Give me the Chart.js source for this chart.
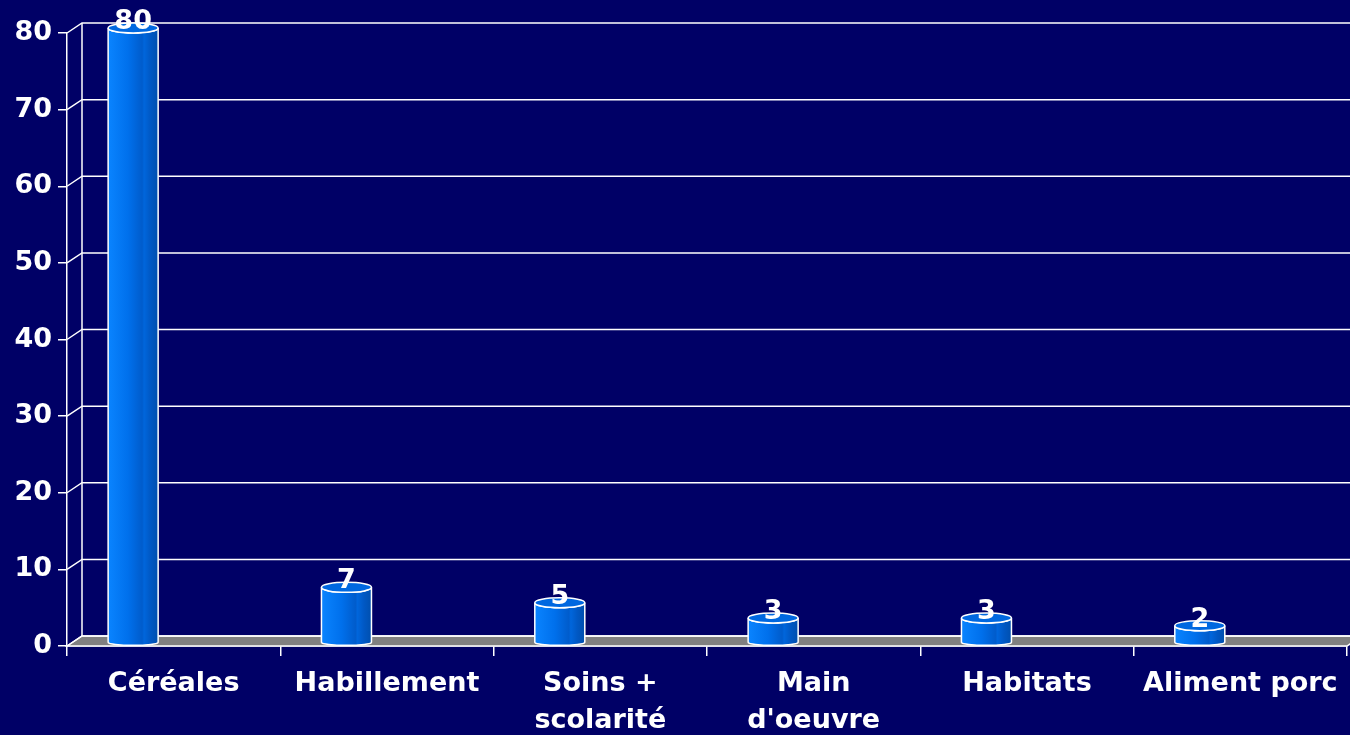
<!DOCTYPE html>
<html>
<head>
<meta charset="utf-8">
<script src="https://cdn.jsdelivr.net/npm/chart.js@4.4.1/dist/chart.umd.min.js"></script>
<style>
    body { margin: 0; background: #000066; }
    #wrap { width: 1350px; height: 735px; position: relative; }
</style>
</head>
<body>
<div id="wrap"><canvas id="chart"></canvas></div>
<script>
// chart data
const categories = ['Céréales', 'Habillement', ['Soins +', 'scolarité'], ['Main', "d'oeuvre"], 'Habitats', 'Aliment porc'];
const values = [80, 7, 5, 3, 3, 2];
const yTicks = [0, 10, 20, 30, 40, 50, 60, 70, 80];

const depthX = 15;   // 3D depth offset of the back wall
const depthY = -10;
const textFont = { family: 'DejaVu Sans', size: 27, weight: 'bold' };

// back wall, side wall and floor
const wallPlugin = {
    id: 'wall',
    beforeDatasetsDraw(chart) {
        const ctx = chart.ctx;
        const y = chart.scales.y;
        const area = chart.chartArea;
        const y0 = y.getPixelForValue(0);
        ctx.save();
        ctx.lineWidth = 1.5;
        ctx.strokeStyle = '#ffffff';

        // floor
        ctx.beginPath();
        ctx.moveTo(area.left, y0);
        ctx.lineTo(area.left + depthX, y0 + depthY);
        ctx.lineTo(area.right + depthX, y0 + depthY);
        ctx.lineTo(area.right, y0);
        ctx.closePath();
        ctx.fillStyle = '#808080';
        ctx.fill();
        ctx.stroke();

        // grid lines on back and side walls
        yTicks.forEach(function(v) {
            const py = y.getPixelForValue(v);
            ctx.beginPath();
            ctx.moveTo(area.left, py);
            ctx.lineTo(area.left + depthX, py + depthY);
            ctx.lineTo(area.right + depthX, py + depthY);
            ctx.stroke();
        });
        ctx.beginPath();
        ctx.moveTo(area.left + depthX, y.getPixelForValue(80) + depthY);
        ctx.lineTo(area.left + depthX, y0 + depthY);
        ctx.stroke();
        ctx.restore();
    }
};

// cylinders and value labels
const cylinderPlugin = {
    id: 'cylinder',
    afterDatasetsDraw(chart) {
        const ctx = chart.ctx;
        const meta = chart.getDatasetMeta(0);
        ctx.save();
        meta.data.forEach(function(bar, i) {
            const w = bar.width;
            const left = bar.x - w / 2;
            const right = bar.x + w / 2;
            const ry = 5;
            const topC = bar.y - ry;
            const botC = bar.base - 3;

            const grad = ctx.createLinearGradient(left, 0, right, 0);
            grad.addColorStop(0, '#0a84ff');
            grad.addColorStop(0.4, '#0070ec');
            grad.addColorStop(0.68, '#005ccc');
            grad.addColorStop(0.72, '#0066dc');
            grad.addColorStop(0.85, '#0058c4');
            grad.addColorStop(1, '#004fae');

            ctx.beginPath();
            ctx.moveTo(left, topC);
            ctx.lineTo(left, botC);
            ctx.ellipse(bar.x, botC, w / 2, 3, 0, Math.PI, 0, true);
            ctx.lineTo(right, topC);
            ctx.ellipse(bar.x, topC, w / 2, ry, 0, 0, Math.PI, false);
            ctx.closePath();
            ctx.fillStyle = grad;
            ctx.fill();
            ctx.lineWidth = 1.5;
            ctx.strokeStyle = '#ffffff';
            ctx.stroke();

            ctx.beginPath();
            ctx.ellipse(bar.x, topC, w / 2, ry, 0, 0, Math.PI * 2);
            ctx.fillStyle = '#0068e0';
            ctx.fill();
            ctx.stroke();

            ctx.fillStyle = '#ffffff';
            ctx.font = 'bold 27px "DejaVu Sans"';
            ctx.textAlign = 'center';
            ctx.textBaseline = 'middle';
            ctx.fillText(String(values[i]), bar.x, bar.y - 11);
        });
        ctx.restore();
    }
};

const ctx = document.getElementById('chart').getContext('2d');
new Chart(ctx, {
    type: 'bar',
    data: {
        labels: categories,
        datasets: [{
            data: values.map(function(v, i) { return { x: i, y: v }; }),
            xAxisID: 'xb',
            backgroundColor: 'rgba(0,0,0,0)',
            borderWidth: 0,
            barThickness: 50
        }]
    },
    plugins: [wallPlugin, cylinderPlugin],
    options: {
        responsive: true,
        maintainAspectRatio: false,
        animation: false,
        layout: { padding: { top: 33, right: 3, left: 0, bottom: 0 } },
        plugins: {
            legend: { display: false },
            tooltip: { enabled: false }
        },
        scales: {
            x: {
                type: 'category',
                offset: true,
                grid: {
                    offset: true,
                    drawOnChartArea: false,
                    drawTicks: true,
                    tickLength: 10,
                    color: '#ffffff',
                    lineWidth: 1.5
                },
                border: { color: '#ffffff', width: 1.5 },
                ticks: {
                    color: '#ffffff',
                    font: Object.assign({ lineHeight: 1.36 }, textFont),
                    padding: 10,
                    maxRotation: 0,
                    autoSkip: false
                },
                afterFit: function(scale) { scale.height = 89; }
            },
            xb: {
                type: 'linear',
                display: false,
                offset: false,
                min: -0.31,
                max: 5.69
            },
            y: {
                min: 0,
                max: 80,
                ticks: {
                    stepSize: 10,
                    color: '#ffffff',
                    font: textFont,
                    padding: 6
                },
                grid: {
                    drawOnChartArea: false,
                    drawTicks: true,
                    tickLength: 9,
                    color: '#ffffff',
                    lineWidth: 1.5
                },
                border: { color: '#ffffff', width: 1.5 },
                afterFit: function(scale) { scale.width = 67; }
            }
        }
    }
});
</script>
</body>
</html>
